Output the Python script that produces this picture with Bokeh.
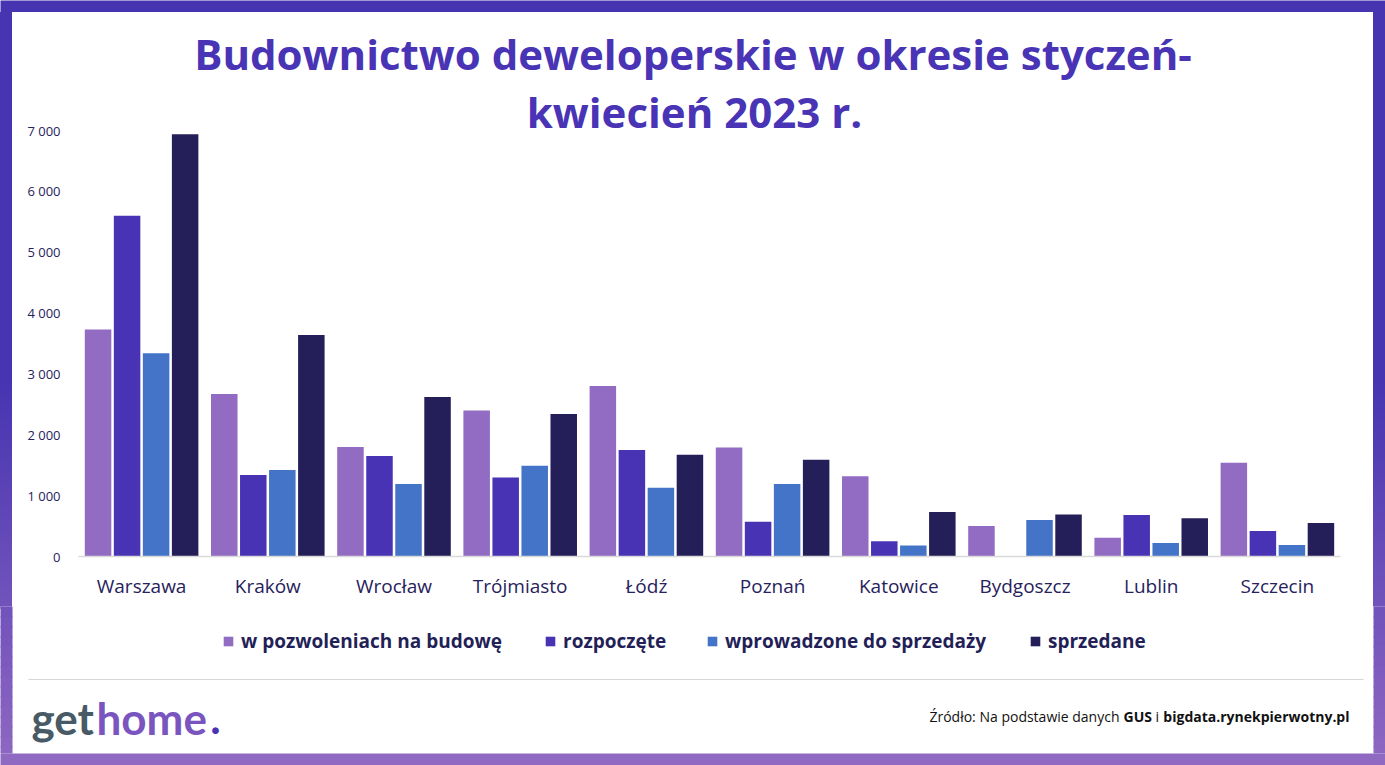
from bokeh.plotting import figure
from bokeh.layouts import column, row
from bokeh.models import (FactorRange, Range1d, FixedTicker, Legend, LegendItem,
                          ColumnDataSource, Label, Div)
from bokeh.transform import dodge
from bokeh.core.properties import value
from bokeh.embed import file_html
from bokeh.resources import INLINE

# ---------------- data ----------------
cities = ["Warszawa", "Kraków", "Wrocław", "Trójmiasto", "Łódź", "Poznań",
          "Katowice", "Bydgoszcz", "Lublin", "Szczecin"]
permits = [3730, 2670, 1800, 2400, 2800, 1790, 1320, 500, 310, 1540]
started = [5600, 1340, 1650, 1300, 1750, 570, 250, 0, 680, 420]
launched = [3340, 1420, 1190, 1490, 1130, 1190, 180, 600, 220, 190]
sold = [6940, 3640, 2620, 2340, 1670, 1590, 730, 690, 630, 550]
series_names = ["w pozwoleniach na budowę", "rozpoczęte",
                "wprowadzone do sprzedaży", "sprzedane"]
y_ticks = [0, 1000, 2000, 3000, 4000, 5000, 6000, 7000]
y_tick_labels = ["0", "1 000", "2 000", "3 000", "4 000", "5 000", "6 000", "7 000"]
title_lines = ["Budownictwo deweloperskie w okresie styczeń-", "kwiecień 2023 r."]
logo_parts = ["get", "home", "."]
source_parts = ["Źródło: Na podstawie danych", "GUS", "i", "bigdata.rynekpierwotny.pl"]

# ---------------- style / layout ----------------
W, H = 1385, 765
BORDER = 12
MAIN_BOTTOM = 606          # bottom edge of the chart row (image y)
AXIS_Y = 556               # image y of the value 0
TOP_TICK_Y = 130           # image y of the value 7000
FRAME_L, FRAME_R = 78, 1340
colors = ["#926BC2", "#4733B4", "#4374C8", "#241F59"]
offsets = [-0.345, -0.115, 0.115, 0.345]
navy = "#27225C"
title_color = "#4834B4"
G_START = 380


def grad(yc):
    a = (0x46, 0x34, 0xB1)
    b = (0x90, 0x68, 0xC2)
    t = 0.0 if yc < G_START else min(1.0, (yc - G_START) / (765 - G_START))
    return "#%02x%02x%02x" % tuple(int(round(a[i] + (b[i] - a[i]) * t)) for i in range(3))


def strips(fig, x0, x1, y0, y1, step=10, pad_top=0, pad_bottom=0):
    L, R, T, B, C = [], [], [], [], []
    y = y0
    while y < y1:
        ye = min(y + step, y1)
        top_edge = y - pad_top if y == y0 else y
        bot_edge = ye + pad_bottom if ye == y1 else ye + 1
        L.append(x0); R.append(x1); T.append(top_edge); B.append(bot_edge)
        C.append(grad((y + ye) / 2))
        y = ye
    fig.quad(left=L, right=R, top=T, bottom=B, fill_color=C, line_color=None)


def blank(width, height, x0, x1, y0, y1):
    f = figure(width=width, height=height, x_range=Range1d(x0, x1), y_range=Range1d(y1, y0),
               output_backend="svg", toolbar_location=None, title=None,
               x_axis_type=None, y_axis_type=None, min_border=0,
               min_border_left=0, min_border_right=0, min_border_top=0,
               min_border_bottom=0)
    f.outline_line_color = None
    f.background_fill_color = "white"
    f.border_fill_color = "white"
    f.xgrid.visible = False
    f.ygrid.visible = False
    return f


# ---------------- top purple band ----------------
top = blank(W, BORDER, 0, W, 0, BORDER)
top.quad(left=[-5], right=[W + 5], top=[-5], bottom=[BORDER + 5],
         fill_color="#4634B1", line_color=None)

# ---------------- main chart (frame reaches the top so the title can live in it) --------
MAIN_H = MAIN_BOTTOM - BORDER
MAIN_W = W - 2 * BORDER
px_per_unit = (AXIS_Y - TOP_TICK_Y) / 7000.0
y_top = (AXIS_Y - BORDER) / px_per_unit

src = ColumnDataSource(dict(city=cities, permits=permits, started=started,
                            launched=launched, sold=sold))

p = figure(width=MAIN_W, height=MAIN_H, x_range=FactorRange(factors=cities, range_padding=0),
           y_range=Range1d(0, y_top), output_backend="svg", toolbar_location=None, title=None,
           min_border_left=FRAME_L - BORDER, min_border_right=(W - BORDER) - FRAME_R,
           min_border_top=0, min_border_bottom=MAIN_BOTTOM - AXIS_Y)
p.outline_line_color = None
p.background_fill_color = "white"
p.border_fill_color = "white"
p.xgrid.grid_line_color = None
p.ygrid.grid_line_color = None

cols = ["permits", "started", "launched", "sold"]
for col, off, c in zip(cols, offsets, colors):
    p.vbar(x=dodge("city", off, range=p.x_range), top=col, width=0.21,
           source=src, fill_color=c, line_color=None)

p.xaxis.axis_line_color = "#D9D9D9"
p.xaxis.axis_line_width = 1.5
p.xaxis.major_tick_line_color = None
p.xaxis.minor_tick_line_color = None
p.xaxis.major_label_text_font = "Open Sans"
p.xaxis.major_label_text_font_size = "19px"
p.xaxis.major_label_text_color = navy
p.xaxis.major_label_standoff = 10

p.yaxis.axis_line_color = None
p.yaxis.major_tick_line_color = None
p.yaxis.minor_tick_line_color = None
p.yaxis.ticker = FixedTicker(ticks=y_ticks)
p.yaxis.major_label_overrides = dict(zip(y_ticks, y_tick_labels))
p.yaxis.major_label_text_font = "Open Sans"
p.yaxis.major_label_text_font_size = "13px"
p.yaxis.major_label_text_color = navy
p.yaxis.major_label_standoff = 12

# title (inside the frame, above the bars)
for txt, cx, cy in zip(title_lines, [692.5, 694], [53.0, 110.5]):
    p.add_layout(Label(x=cx - FRAME_L, y=AXIS_Y - cy, x_units="screen", y_units="screen",
                       text=txt, text_align="center", text_baseline="middle",
                       text_font="Open Sans", text_font_style="bold",
                       text_font_size="42px", text_color=title_color))

# side strips of the chart row: plain coloured boxes with a vertical gradient
stop_pct = 100.0 * (G_START - BORDER) / MAIN_H
strip_css = "linear-gradient(to bottom, %s 0%%, %s %.1f%%, %s 100%%)" % (
    grad(BORDER), grad(G_START), stop_pct, grad(MAIN_BOTTOM))
strip_styles = {"background": strip_css, "padding": "0px",
                "box-shadow": "0px 3px 0px 0px %s" % grad(MAIN_BOTTOM)}
ls = Div(text="", width=BORDER, height=MAIN_H, margin=0, styles=dict(strip_styles))
rs = Div(text="", width=BORDER, height=MAIN_H, margin=0, styles=dict(strip_styles))

# ---------------- bottom band: legend, footer ----------------
BOT_H = H - MAIN_BOTTOM
bot = blank(W, BOT_H, 0, W, MAIN_BOTTOM, H)
strips(bot, -5, BORDER, MAIN_BOTTOM, H - BORDER, pad_top=5)
strips(bot, W - BORDER, W + 5, MAIN_BOTTOM, H - BORDER, pad_top=5)
bot.quad(left=[-5], right=[W + 5], top=[H - BORDER], bottom=[H + 5],
         fill_color="#8F69C2", line_color=None)

legend_x = [222, 544, 706, 1029]
for name, c, lx in zip(series_names, colors, legend_x):
    proxy = bot.vbar(x=[-1000], top=[H], bottom=[H], width=1, fill_color=c, line_color=None)
    lg = Legend(items=[LegendItem(label=name, renderers=[proxy])],
                location=(lx, H - 654), orientation="horizontal",
                glyph_width=12, glyph_height=12, label_standoff=7,
                label_height=12, padding=0, margin=0, spacing=0,
                border_line_color=None, background_fill_alpha=0,
                label_text_font="Open Sans", label_text_font_style="bold",
                label_text_font_size="19px", label_text_color="#231F57")
    bot.add_layout(lg)

bot.segment(x0=[28], y0=[679], x1=[1363], y1=[679], line_color="#D6D6D6", line_width=1.2)

bot.text(x=[31, 96], y=[717.5, 717.5], text=logo_parts[:2], text_align="left",
         text_baseline="middle", text_font=value("Lato"), text_font_style="bold",
         text_font_size="44px", text_color=["#475A66", "#7A55C0"])
bot.text(x=[215], y=[717.5], text=logo_parts[2:], text_align="center",
         text_baseline="middle", text_font=value("Lato"), text_font_style="bold",
         text_font_size="44px", text_color="#4733B5")

bot.text(x=[1119], y=[716], text=[source_parts[0]],
         text_align="right", text_baseline="middle", text_font=value("Open Sans"),
         text_font_style="normal", text_font_size="14px", text_color="#111111")
bot.text(x=[1123], y=[716], text=[source_parts[1]],
         text_align="left", text_baseline="middle", text_font=value("Open Sans"),
         text_font_style="bold", text_font_size="14px", text_color="#111111")
bot.text(x=[1155], y=[716], text=[source_parts[2]],
         text_align="left", text_baseline="middle", text_font=value("Open Sans"),
         text_font_style="normal", text_font_size="14px", text_color="#111111")
bot.text(x=[1349], y=[716], text=[source_parts[3]],
         text_align="right", text_baseline="middle", text_font=value("Open Sans"),
         text_font_style="bold", text_font_size="14px", text_color="#111111")

layout = column(top, row(ls, p, rs), bot)

open("out.html", "w").write(file_html(layout, INLINE))
